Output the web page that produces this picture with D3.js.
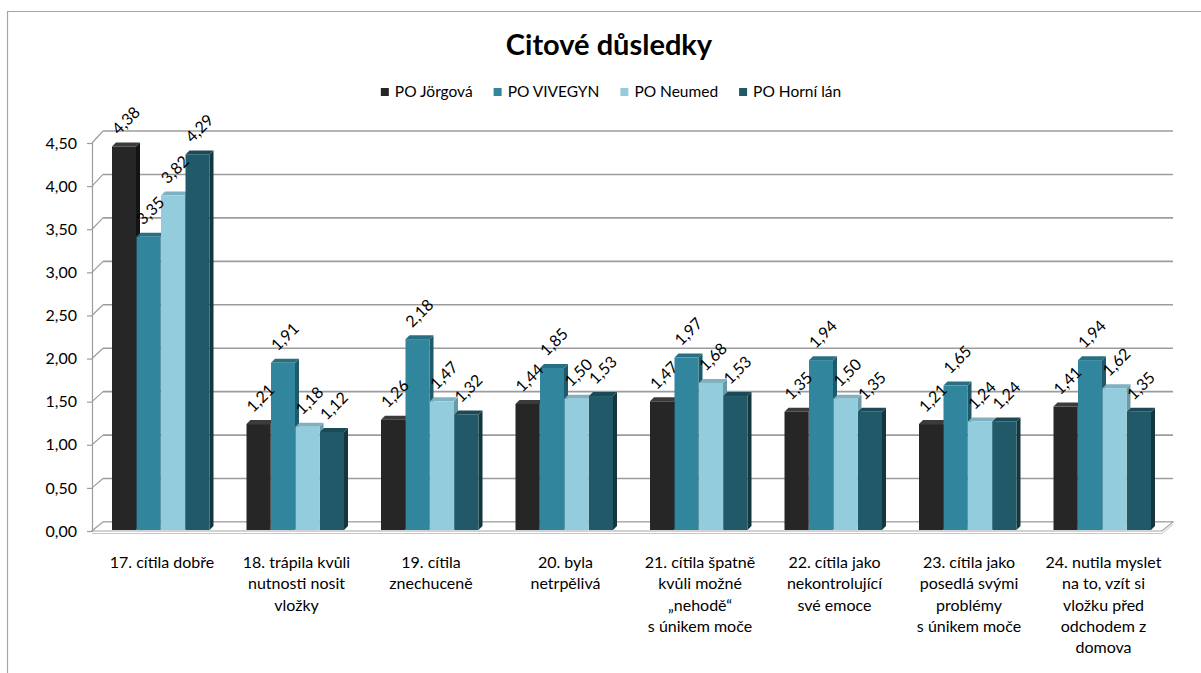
<!DOCTYPE html>
<html>
<head>
<meta charset="utf-8">
<script src="https://cdn.jsdelivr.net/npm/d3@7"></script>
<style>
  html, body { margin: 0; padding: 0; background: #fff; }
  svg { display: block; font-family: Lato, "Liberation Sans", sans-serif; }
</style>
</head>
<body>
<svg id="chart" width="1201" height="673"></svg>
<script>
// Survey items (category axis), one line per array entry
const categories = [
  ["17. cítila dobře"],
  ["18. trápila kvůli", "nutnosti nosit", "vložky"],
  ["19. cítila", "znechuceně"],
  ["20. byla", "netrpělivá"],
  ["21. cítila špatně", "kvůli možné", "„nehodě“", "s únikem moče"],
  ["22. cítila jako", "nekontrolující", "své emoce"],
  ["23. cítila jako", "posedlá svými", "problémy", "s únikem moče"],
  ["24. nutila myslet", "na to, vzít si", "vložku před", "odchodem z", "domova"]
];
const seriesNames = ["PO Jörgová", "PO VIVEGYN", "PO Neumed", "PO Horní lán"];
const jorgova  = [4.38, 1.21, 1.26, 1.44, 1.47, 1.35, 1.21, 1.41];
const vivegyn  = [3.35, 1.91, 2.18, 1.85, 1.97, 1.94, 1.65, 1.94];
const neumed   = [3.82, 1.18, 1.47, 1.50, 1.68, 1.50, 1.24, 1.62];
const horniLan = [4.29, 1.12, 1.32, 1.53, 1.53, 1.35, 1.24, 1.35];
const yTicks = [0, 0.5, 1, 1.5, 2, 2.5, 3, 3.5, 4, 4.5];

const seriesValues = [jorgova, vivegyn, neumed, horniLan];
// front, top and side face colours for each series
const palette = [
  { front: "#262626", top: "#3b3b3b", side: "#141414" },
  { front: "#31859c", top: "#286f83", side: "#205a6a" },
  { front: "#93cddd", top: "#7fb2c0", side: "#6a9aa7" },
  { front: "#215968", top: "#1b4a57", side: "#14363f" }
];

const fmt = v => d3.format(".2f")(v).replace(".", ",");
const svg = d3.select("#chart");
const fontSize = 16;

// outer frame (top and left edges)
svg.append("path")
  .attr("d", "M7.5,673 V11.5 H1201")
  .attr("fill", "none").attr("stroke", "#a6a6a6").attr("stroke-width", 1.2);

// title
svg.append("text")
  .attr("x", 609).attr("y", 55)
  .attr("text-anchor", "middle")
  .attr("font-size", 29).attr("font-weight", 700)
  .text("Citové důsledky");

// 3D layout
const depthX = 11, depthY = -9;
const xLeft = 92, xRight = 1162;
const yFront = d3.scaleLinear().domain([0, 4.5]).range([531, 143]);
const yBack  = d3.scaleLinear().domain([0, 4.5]).range([522, 131]);
const yBar   = d3.scaleLinear().domain([0, 4.5]).range([530, 136]);

const x0 = d3.scaleBand().domain(d3.range(categories.length)).range([xLeft, xRight + 6]);
const x1 = d3.scaleBand().domain(d3.range(seriesNames.length)).range([20, 118]);

// back wall gridlines and side-wall diagonals
const grid = svg.append("g");
yTicks.forEach(t => {
  grid.append("line")
    .attr("x1", xLeft + depthX).attr("x2", xRight + depthX)
    .attr("y1", yBack(t)).attr("y2", yBack(t))
    .attr("stroke", "#9c9c9c").attr("stroke-width", 1.6);
  grid.append("line")
    .attr("x1", xLeft).attr("y1", yFront(t))
    .attr("x2", xLeft + depthX).attr("y2", yBack(t))
    .attr("stroke", "#9c9c9c").attr("stroke-width", 1.2);
});

// floor
svg.append("path")
  .attr("d", `M${xLeft},${yFront(0)} L${xRight},${yFront(0)} L${xRight + depthX},${yBack(0)} L${xLeft + depthX},${yBack(0)} Z`)
  .attr("fill", "#fff").attr("stroke", "#a6a6a6").attr("stroke-width", 1.2);
svg.append("path")
  .attr("d", `M${xLeft},${yFront(0) + 2.5} L${xRight},${yFront(0) + 2.5} L${xRight + depthX},${yBack(0) + 2.5}`)
  .attr("fill", "none").attr("stroke", "#c8c8c8").attr("stroke-width", 1);

// value axis
const yAxis = d3.axisLeft(yFront).tickValues(yTicks).tickFormat(fmt).tickSize(5).tickPadding(10);
const ya = svg.append("g").attr("transform", `translate(${xLeft},0)`).call(yAxis);
ya.select(".domain").attr("stroke", "#9c9c9c").attr("stroke-width", 1.2);
ya.selectAll(".tick line").attr("stroke", "#9c9c9c").attr("stroke-width", 1.2);
ya.selectAll(".tick text").attr("font-size", fontSize).attr("fill", "#000").attr("font-family", "Lato, sans-serif");

// bars: front face, top face and right side face
const bw = x1.bandwidth() - 0.5;
const bd = 4;
const bars = svg.append("g");
categories.forEach((c, ci) => {
  seriesValues.forEach((vals, si) => {
    const v = vals[ci];
    const x = x0(ci) + x1(si);
    const yt = yBar(v), yb = yBar(0);
    const col = palette[si];
    bars.append("path")
      .attr("d", `M${x + bw},${yb} L${x + bw + bd},${yb - bd} L${x + bw + bd},${yt - bd} L${x + bw},${yt} Z`)
      .attr("fill", col.side);
    bars.append("path")
      .attr("d", `M${x},${yt} L${x + bd},${yt - bd} L${x + bw + bd},${yt - bd} L${x + bw},${yt} Z`)
      .attr("fill", col.top);
    bars.append("rect")
      .attr("x", x).attr("y", yt).attr("width", bw).attr("height", yb - yt)
      .attr("fill", col.front);
  });
});

// rotated value labels
const labels = svg.append("g");
categories.forEach((c, ci) => {
  seriesValues.forEach((vals, si) => {
    const v = vals[ci];
    const cx = x0(ci) + x1(si) + bw / 2 + 2;
    const cy = yBar(v) - 26;
    labels.append("text")
      .attr("transform", `translate(${cx},${cy}) rotate(-45)`)
      .attr("text-anchor", "middle").attr("dy", "0.35em")
      .attr("font-size", fontSize).attr("fill", "#000")
      .text(fmt(v));
  });
});

// category labels
const catG = svg.append("g");
categories.forEach((lines, ci) => {
  const cx = x0(ci) + x1(0) + (x1.bandwidth() * 4) / 2 + 1;
  const t = catG.append("text")
    .attr("text-anchor", "middle").attr("font-size", fontSize).attr("fill", "#000");
  lines.forEach((ln, li) => {
    t.append("tspan").attr("x", cx).attr("y", 568 + li * 21.3).text(ln);
  });
});

// legend
const legend = svg.append("g");
const legendGap = 21;
let lx = 0;
seriesNames.forEach((name, i) => {
  const g = legend.append("g");
  g.append("rect").attr("x", 0).attr("y", -4).attr("width", 8).attr("height", 8).attr("fill", palette[i].front);
  const tx = g.append("text").attr("x", 14).attr("y", 0).attr("dy", "0.35em")
    .attr("font-size", 15.5).attr("fill", "#000").text(name);
  const w = 14 + tx.node().getComputedTextLength();
  g.attr("transform", `translate(${lx},0)`);
  lx += w + legendGap;
});
const legendWidth = lx - legendGap;
legend.attr("transform", `translate(${611 - legendWidth / 2},92)`);
</script>
</body>
</html>
